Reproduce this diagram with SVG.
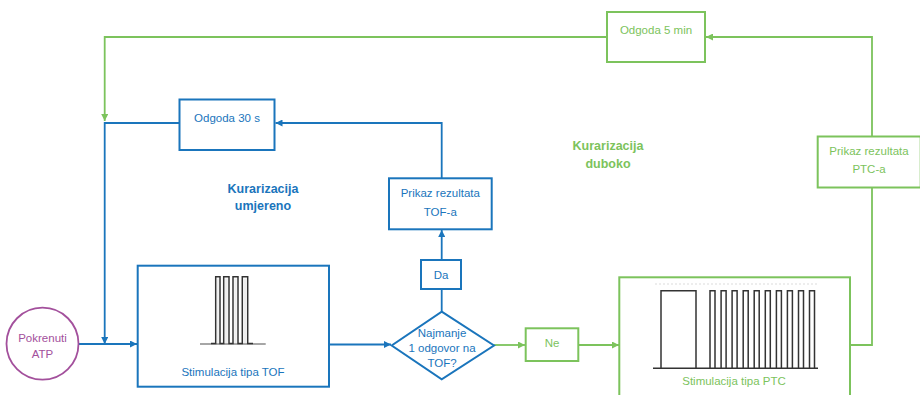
<svg xmlns="http://www.w3.org/2000/svg" width="920" height="395" viewBox="0 0 920 395">
<style>
.b{fill:#fff;stroke:#1a75bc;stroke-width:2}
.g{fill:#fff;stroke:#7cc35c;stroke-width:2}
.cb{fill:none;stroke:#1a75bc;stroke-width:1.8}
.cg{fill:none;stroke:#7cc35c;stroke-width:1.8}
text{font-family:"Liberation Sans",Arial,sans-serif;font-size:11.5px;text-anchor:middle}
.tb{fill:#1a75bc}
.tg{fill:#7cc35c}
.bold{font-weight:bold;font-size:12.5px}
.wave{fill:none;stroke:#333;stroke-width:1.5}
</style>
<defs>
<marker id="ab" viewBox="0 0 10 10" refX="10" refY="5" markerWidth="7" markerHeight="7" markerUnits="userSpaceOnUse" orient="auto"><path d="M0,0L10,5L0,10z" fill="#1a75bc"/></marker>
<marker id="ag" viewBox="0 0 10 10" refX="10" refY="5" markerWidth="7" markerHeight="7" markerUnits="userSpaceOnUse" orient="auto"><path d="M0,0L10,5L0,10z" fill="#7cc35c"/></marker>
</defs>
<g id="connectors">
<path class="cg" d="M607,37H104.7V121" marker-end="url(#ag)"/>
<path class="cg" d="M872,137V37H706" marker-end="url(#ag)"/>
<path class="cg" d="M850,345H872V188"/>
<path class="cg" d="M494,345H525" marker-end="url(#ag)"/>
<path class="cg" d="M578.5,345H619" marker-end="url(#ag)"/>
<path class="cb" d="M179.5,123H104.7V344" marker-end="url(#ab)"/>
<path class="cb" d="M441.7,178V123H275.5" marker-end="url(#ab)"/>
<path class="cb" d="M78.5,344H137" marker-end="url(#ab)"/>
<path class="cb" d="M329,344.5H391" marker-end="url(#ab)"/>
<path class="cb" d="M441.7,311.7V289"/>
<path class="cb" d="M441.7,260V230" marker-end="url(#ab)"/>
</g>
<g id="start">
<circle cx="42.5" cy="343.7" r="36" fill="#fff" stroke="#a3509c" stroke-width="1.8"/>
<text x="42.5" y="342" fill="#a3509c">Pokrenuti</text>
<text x="42.5" y="358" fill="#a3509c">ATP</text>
</g>
<g id="tof">
<rect class="b" x="137.7" y="265.7" width="191.3" height="121"/>
<path d="M200,344H265.7" stroke="#888" stroke-width="1.5" fill="none"/>
<path class="wave" d="M211,343.5H215.7V276.7H220V343.5H223.7V276.7H229V343.5H233V276.7H238V343.5H242.3V276.7H247.7V343.5H253"/>
<path d="M217,343V278.5H218.7V343M225,343V278.5H227.7V343M234.3,343V278.5H236.7V343M243.6,343V278.5H246.4V343" fill="#eee" stroke="none"/>
<text class="tb" x="233" y="376">Stimulacija tipa TOF</text>
</g>
<g id="odgoda30">
<rect class="b" x="179.5" y="99.5" width="95" height="50.5"/>
<text class="tb" x="227" y="122">Odgoda 30 s</text>
</g>
<g id="label-umjereno">
<text class="tb bold" x="263" y="193">Kurarizacija</text>
<text class="tb bold" x="263" y="210">umjereno</text>
</g>
<g id="prikaz-tof">
<rect class="b" x="389" y="178.3" width="102.7" height="51"/>
<text class="tb" x="440.3" y="197">Prikaz rezultata</text>
<text class="tb" x="440.3" y="216">TOF-a</text>
</g>
<g id="da">
<rect class="b" x="421" y="260" width="40" height="29"/>
<text class="tb" x="441" y="279">Da</text>
</g>
<g id="decision">
<path class="b" d="M441.7,311.7L494,345.5L441.7,379.3L391.7,345.5z"/>
<text class="tb" x="442" y="337">Najmanje</text>
<text class="tb" x="442" y="352">1 odgovor na</text>
<text class="tb" x="442" y="367">TOF?</text>
</g>
<g id="ne">
<rect class="g" x="525.7" y="328.3" width="52.6" height="32.7"/>
<text class="tg" x="552" y="347">Ne</text>
</g>
<g id="ptc">
<rect class="g" x="619.3" y="277.3" width="230.7" height="130"/>
<path d="M655,284H818" stroke="#e8e8e8" stroke-width="1.5" stroke-dasharray="2,2" fill="none"/>
<path class="wave" stroke-width="2" d="M653,368.3H818"/>
<path class="wave" stroke-width="2" d="M661,368V290.7H696V368M710,368V290.7H715V368M721.1,368V290.7H726.1V368M732.1,368V290.7H737.1V368M743.2,368V290.7H748.2V368M754.2,368V290.7H759.2V368M765.3,368V290.7H770.3V368M776.4,368V290.7H781.4V368M787.4,368V290.7H792.4V368M798.5,368V290.7H803.5V368M809.5,368V290.7H814.5V368"/>
<text class="tg" x="734" y="385">Stimulacija tipa PTC</text>
</g>
<g id="odgoda5">
<rect class="g" x="607" y="12" width="98" height="50"/>
<text class="tg" x="656" y="34">Odgoda 5 min</text>
</g>
<g id="label-duboko">
<text class="tg bold" x="608" y="150">Kurarizacija</text>
<text class="tg bold" x="608" y="168">duboko</text>
</g>
<g id="prikaz-ptc">
<rect class="g" x="817.7" y="136.5" width="103" height="51"/>
<text class="tg" x="869" y="155">Prikaz rezultata</text>
<text class="tg" x="869" y="173">PTC-a</text>
</g>
</svg>
